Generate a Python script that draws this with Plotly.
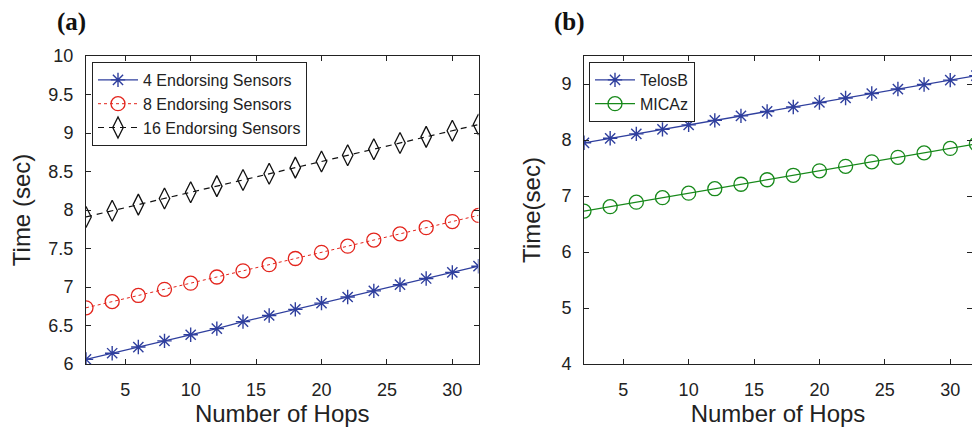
import plotly.graph_objects as go

# Number of hops (x) shared by both panels
hops = [2, 4, 6, 8, 10, 12, 14, 16, 18, 20, 22, 24, 26, 28, 30, 32]

# Panel (a): endorsement time vs hops for different numbers of endorsing sensors
t_4_sensors = [6.06, 6.14, 6.22, 6.30, 6.38, 6.46, 6.55, 6.63, 6.71, 6.79, 6.87, 6.95, 7.03, 7.11, 7.19, 7.27]
t_8_sensors = [6.73, 6.81, 6.89, 6.97, 7.05, 7.13, 7.21, 7.29, 7.37, 7.45, 7.53, 7.61, 7.69, 7.77, 7.85, 7.93]
t_16_sensors = [7.91, 7.99, 8.07, 8.15, 8.23, 8.31, 8.39, 8.47, 8.55, 8.63, 8.71, 8.79, 8.87, 8.95, 9.03, 9.11]

# Panel (b): platform comparison
t_telosb = [7.95, 8.03, 8.11, 8.19, 8.27, 8.35, 8.43, 8.51, 8.59, 8.67, 8.75, 8.83, 8.91, 8.99, 9.07, 9.15]
t_micaz = [6.73, 6.81, 6.89, 6.97, 7.05, 7.13, 7.21, 7.29, 7.37, 7.45, 7.53, 7.61, 7.69, 7.77, 7.85, 7.93]

xticks = [5, 10, 15, 20, 25, 30]
yticks_a = [6, 6.5, 7, 7.5, 8, 8.5, 9, 9.5, 10]
ytext_a = ["6", "6.5", "7", "7.5", "8", "8.5", "9", "9.5", "10"]
yticks_b = [4, 5, 6, 7, 8, 9]

BLUE = "#2f3f9e"
RED = "#e3241c"
GREEN = "#17891a"
BLACK = "#111111"
FONT = "Liberation Sans, Arial, sans-serif"

W, H = 972, 427
fig = go.Figure()

fig.add_trace(go.Scatter(
    x=hops, y=t_4_sensors, name="4 Endorsing Sensors", mode="lines+markers",
    line=dict(color=BLUE, width=1.3),
    marker=dict(symbol="asterisk-open", size=12, line=dict(color=BLUE, width=1.4)),
    xaxis="x", yaxis="y", legend="legend"))
fig.add_trace(go.Scatter(
    x=hops, y=t_8_sensors, name="8 Endorsing Sensors", mode="lines+markers",
    line=dict(color=RED, width=1, dash="dot"),
    marker=dict(symbol="circle-open", size=14, line=dict(color=RED, width=1.3)),
    xaxis="x", yaxis="y", legend="legend"))
fig.add_trace(go.Scatter(
    x=hops, y=t_16_sensors, name="16 Endorsing Sensors", mode="lines+markers",
    line=dict(color=BLACK, width=1.2, dash="6px,5px"),
    marker=dict(symbol="diamond-tall-open", size=15, line=dict(color=BLACK, width=1.3)),
    xaxis="x", yaxis="y", legend="legend"))

fig.add_trace(go.Scatter(
    x=hops, y=t_telosb, name="TelosB", mode="lines+markers",
    line=dict(color=BLUE, width=1.3),
    marker=dict(symbol="asterisk-open", size=12, line=dict(color=BLUE, width=1.4)),
    xaxis="x2", yaxis="y2", legend="legend2"))
fig.add_trace(go.Scatter(
    x=hops, y=t_micaz, name="MICAz", mode="lines+markers",
    line=dict(color=GREEN, width=1.3),
    marker=dict(symbol="circle-open", size=14, line=dict(color=GREEN, width=1.3)),
    xaxis="x2", yaxis="y2", legend="legend2"))

axis_common = dict(
    showline=True, linecolor="#222222", linewidth=1, mirror="ticks",
    ticks="inside", ticklen=5, tickcolor="#222222", tickwidth=1,
    showgrid=False, zeroline=False,
    tickfont=dict(family=FONT, size=18, color="#222222"),
)
title_font = dict(family=FONT, size=24, color="#222222")

xa0, xa1 = 86 / W, 478.5 / W
xb0 = 584 / W
legend_common = dict(
    xanchor="left", yanchor="top", y=1 - (62 - 56) / (H - 119),
    bgcolor="white", bordercolor="#222222", borderwidth=1,
    font=dict(family=FONT, size=16, color="#222222"),
    tracegroupgap=0, itemwidth=40,
)
fig.update_layout(
    width=W, height=H,
    margin=dict(l=0, r=0, t=56, b=63),
    paper_bgcolor="white", plot_bgcolor="white",
    font=dict(family=FONT, color="#222222"),
    xaxis=dict(domain=[xa0, xa1], range=[2, 32], tickvals=xticks,
               title=dict(text="Number of Hops", font=title_font, standoff=12),
               anchor="y", ticklabelstandoff=9, **axis_common),
    yaxis=dict(domain=[0, 1], range=[6, 10], tickvals=yticks_a, ticktext=ytext_a,
               title=dict(text="Time (sec)", font=title_font, standoff=10),
               anchor="x", ticklabelstandoff=8, **axis_common),
    xaxis2=dict(domain=[xb0, 1], range=[2, 2 + (W - 584) / 13.08], tickvals=xticks,
                title=dict(text="Number of Hops", font=title_font, standoff=12),
                anchor="y2", ticklabelstandoff=9, **axis_common),
    yaxis2=dict(domain=[0, 1], range=[4, 9.5], tickvals=yticks_b,
                title=dict(text="Time(sec)", font=title_font, standoff=13),
                anchor="x2", ticklabelstandoff=8, **axis_common),
    legend=dict(x=92 / W, **legend_common),
    legend2=dict(x=589 / W, **legend_common),
    showlegend=True,
)

# Panel labels
for label, xpix in (("(a)", 71), ("(b)", 569)):
    fig.add_annotation(text=f"<b>{label}</b>", xref="paper", yref="paper",
                       x=xpix / W, y=1 + (56 - 22) / (H - 119),
                       showarrow=False, xanchor="center", yanchor="middle",
                       font=dict(family="Liberation Serif, Times New Roman, serif",
                                 size=25, color="#111111"))

fig.write_html("out.html")
